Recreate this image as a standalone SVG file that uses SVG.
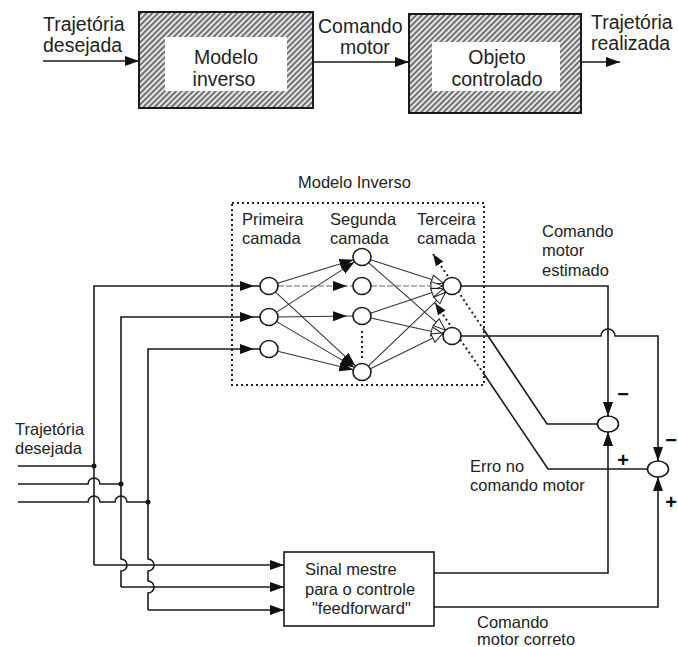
<svg xmlns="http://www.w3.org/2000/svg" width="678" height="647" viewBox="0 0 678 647">
<style>
.t1{font-family:"Liberation Sans",Arial,sans-serif;font-size:19.5px;fill:#222}
.t2{font-family:"Liberation Sans",Arial,sans-serif;font-size:16.5px;fill:#222}
.sg{font-family:"Liberation Sans",Arial,sans-serif;font-size:20px;fill:#111;text-anchor:middle;font-weight:bold}
.ln{fill:none;stroke:#1a1a1a;stroke-width:1.6}
.thin{fill:none;stroke:#333;stroke-width:1.1}
.faint{fill:none;stroke:#666;stroke-width:1;stroke-dasharray:6 2}
.dot{fill:none;stroke:#222;stroke-width:2;stroke-dasharray:2 3}
.neu{fill:#fff;stroke:#1a1a1a;stroke-width:1.6}
.hatch{fill:url(#hatch);stroke:#1a1a1a;stroke-width:2}
.inner{fill:#fff;stroke:none}
.box{fill:#fff;stroke:#1a1a1a;stroke-width:1.6}
</style>
<defs>
<pattern id="hatch" patternUnits="userSpaceOnUse" width="4" height="4" patternTransform="rotate(45)">
<rect width="4" height="4" fill="#e6e6e6"/>
<line x1="1" y1="0" x2="1" y2="4" stroke="#333" stroke-width="1.3"/>
</pattern>
<marker id="arr" markerUnits="userSpaceOnUse" markerWidth="14" markerHeight="10" viewBox="0 0 14 10" refX="14" refY="5" orient="auto">
<path d="M0,0 L14,5 L0,10 z" fill="#111"/>
</marker>
<marker id="arrGap" markerUnits="userSpaceOnUse" markerWidth="14" markerHeight="10" viewBox="0 0 14 10" refX="20" refY="5" orient="auto">
<path d="M0,0 L14,5 L0,10 z" fill="#111"/>
</marker>
<marker id="arrS" markerUnits="userSpaceOnUse" markerWidth="12" markerHeight="9" viewBox="0 0 12 9" refX="12" refY="4.5" orient="auto">
<path d="M0,0 L12,4.5 L0,9 z" fill="#111"/>
</marker>
<marker id="hol" markerUnits="userSpaceOnUse" markerWidth="14" markerHeight="11" viewBox="-1 -1 14 11" refX="12" refY="4.5" orient="auto">
<path d="M0,0 L12,4.5 L0,9 z" fill="#fff" stroke="#222" stroke-width="1"/>
</marker>
</defs>
<rect width="678" height="647" fill="#fff"/>

<g id="connectors">
<!-- top row -->
<path class="ln" d="M43,61 H139" marker-end="url(#arr)"/>
<path class="ln" d="M313,62 H409" marker-end="url(#arr)"/>
<path class="ln" d="M581,62 H620" marker-end="url(#arr)"/>

<!-- desired trajectory inputs -->
<path class="ln" d="M18,466 H94"/>
<path class="ln" d="M18,484 H88 A6,6 0 0,1 100,484 H121"/>
<path class="ln" d="M18,502 H88 A6,6 0 0,1 100,502 H115 A6,6 0 0,1 127,502 H148"/>
<circle cx="94" cy="466" r="2.5" fill="#111"/>
<circle cx="121" cy="484" r="2.5" fill="#111"/>
<circle cx="148" cy="502" r="2.5" fill="#111"/>

<!-- verticals to first layer -->
<path class="ln" d="M94,565 V286 H260" marker-end="url(#arrGap)"/>
<path class="ln" d="M121,587 V571 A6,6 0 0,0 121,559 V317 H260" marker-end="url(#arrGap)"/>
<path class="ln" d="M148,610 V593 A6,6 0 0,0 148,581 V571 A6,6 0 0,0 148,559 V349 H260" marker-end="url(#arrGap)"/>
<!-- to feedforward box -->
<path class="ln" d="M94,565 H284" marker-end="url(#arr)"/>
<path class="ln" d="M121,587 H284" marker-end="url(#arr)"/>
<path class="ln" d="M148,610 H284" marker-end="url(#arr)"/>

<!-- layer 1 -> layer 2 -->
<path class="thin" d="M277.6,283.3 L353.4,259.7" marker-end="url(#arr)"/>
<path class="faint" d="M278,286 H353" marker-end="url(#arrGap)"/>
<path class="thin" d="M275.6,292.1 L355.4,365.9" marker-end="url(#arr)"/>
<path class="thin" d="M276.6,312.1 L354.4,261.9" marker-end="url(#arr)"/>
<path class="thin" d="M278,317 L353,316" marker-end="url(#arrGap)"/>
<path class="thin" d="M276.7,321.6 L354.3,367.4" marker-end="url(#arr)"/>
<path class="thin" d="M277.7,351.2 L353.3,369.8" marker-end="url(#arr)"/>
<path class="dot" d="M362,331 V358"/>

<!-- layer 2 -> layer 3 -->
<path class="thin" d="M370.6,259.8 L443.4,283.2" marker-end="url(#hol)"/>
<path class="thin" d="M368.8,262.9 L445.2,330.1" marker-end="url(#hol)"/>
<path class="faint" d="M371,286 H443" marker-end="url(#hol)"/>
<path class="thin" d="M370.5,313.2 L443.5,288.8" marker-end="url(#hol)"/>
<path class="thin" d="M370.8,318 L443.2,334" marker-end="url(#hol)"/>
<path class="thin" d="M368.5,365.8 L445.5,292.2" marker-end="url(#hol)"/>
<path class="thin" d="M370.4,368.7 L443.6,332.7" marker-end="url(#hol)"/>

<!-- outputs to summing junctions -->
<path class="ln" d="M461,286 H608 V416" marker-end="url(#arr)"/>
<path class="ln" d="M461,336 H601 A7,7 0 0,1 615,336 H658 V461" marker-end="url(#arr)"/>
<path class="ln" d="M434,573 H608 V432" marker-end="url(#arr)"/>
<path class="ln" d="M434,607 H658 V477" marker-end="url(#arr)"/>

<!-- error back-propagation -->
<path class="ln" d="M597.5,424 H547 L484,330"/>
<path class="dot" d="M484,330 L433,254" marker-end="url(#arrS)"/>
<path class="ln" d="M647.5,469 H548 L484,374"/>
<path class="dot" d="M484,374 L435,303" marker-end="url(#arrS)"/>
</g>

<g id="inverse-model-block">
<rect class="hatch" x="139" y="12" width="174" height="96"/>
<rect class="inner" x="165" y="37" width="122" height="54"/>
<text class="t1" x="226" y="64" text-anchor="middle">Modelo</text>
<text class="t1" x="224" y="86" text-anchor="middle">inverso</text>
</g>

<g id="controlled-object-block">
<rect class="hatch" x="409" y="14" width="172" height="99"/>
<rect class="inner" x="432" y="42" width="128" height="49"/>
<text class="t1" x="497" y="64" text-anchor="middle">Objeto</text>
<text class="t1" x="497" y="86" text-anchor="middle">controlado</text>
</g>

<g id="top-labels">
<text class="t1" x="43" y="31">Trajetória</text>
<text class="t1" x="43" y="52">desejada</text>
<text class="t1" x="318" y="33">Comando</text>
<text class="t1" x="340" y="54">motor</text>
<text class="t1" x="591" y="29">Trajetória</text>
<text class="t1" x="591" y="50">realizada</text>
</g>

<g id="inverse-model-network">
<rect x="232" y="203" width="252" height="182" class="dot"/>
<text class="t2" x="298" y="188">Modelo Inverso</text>
<text class="t2" x="242" y="225">Primeira</text>
<text class="t2" x="242" y="244">camada</text>
<text class="t2" x="330" y="225">Segunda</text>
<text class="t2" x="330" y="244">camada</text>
<text class="t2" x="417" y="225">Terceira</text>
<text class="t2" x="417" y="244">camada</text>
</g>

<g id="layer1">
<ellipse id="n1_1" class="neu" cx="269" cy="286" rx="9" ry="8.5"/>
<ellipse id="n1_2" class="neu" cx="269" cy="317" rx="9" ry="8.5"/>
<ellipse id="n1_3" class="neu" cx="269" cy="349" rx="9" ry="8.5"/>
</g>
<g id="layer2">
<ellipse id="n2_1" class="neu" cx="362" cy="257" rx="9" ry="8.5"/>
<ellipse id="n2_2" class="neu" cx="362" cy="286" rx="9" ry="8.5"/>
<ellipse id="n2_3" class="neu" cx="362" cy="316" rx="9" ry="8.5"/>
<ellipse id="n2_4" class="neu" cx="362" cy="372" rx="9" ry="8.5"/>
</g>
<g id="layer3">
<ellipse id="n3_1" class="neu" cx="452" cy="286" rx="9" ry="8.5"/>
<ellipse id="n3_2" class="neu" cx="452" cy="336" rx="9" ry="8.5"/>
</g>

<g id="sum1">
<ellipse class="neu" cx="608" cy="424" rx="10.5" ry="8"/>
<text class="sg" x="623" y="401">−</text>
<text class="sg" x="623" y="467">+</text>
</g>
<g id="sum2">
<ellipse class="neu" cx="658" cy="469" rx="10.5" ry="8"/>
<text class="sg" x="671" y="447">−</text>
<text class="sg" x="671" y="509">+</text>
</g>

<g id="feedforward-box">
<rect class="box" x="284" y="552" width="150" height="74"/>
<text class="t2" x="305" y="575">Sinal mestre</text>
<text class="t2" x="305" y="595">para o controle</text>
<text class="t2" x="312" y="614">"feedforward"</text>
</g>

<g id="labels">
<text class="t2" x="15" y="435">Trajetória</text>
<text class="t2" x="15" y="454">desejada</text>
<text class="t2" x="542" y="237">Comando</text>
<text class="t2" x="542" y="256">motor</text>
<text class="t2" x="542" y="276">estimado</text>
<text class="t2" x="470" y="472">Erro no</text>
<text class="t2" x="470" y="491">comando motor</text>
<text class="t2" x="477" y="628">Comando</text>
<text class="t2" x="477" y="645">motor correto</text>
</g>
</svg>
